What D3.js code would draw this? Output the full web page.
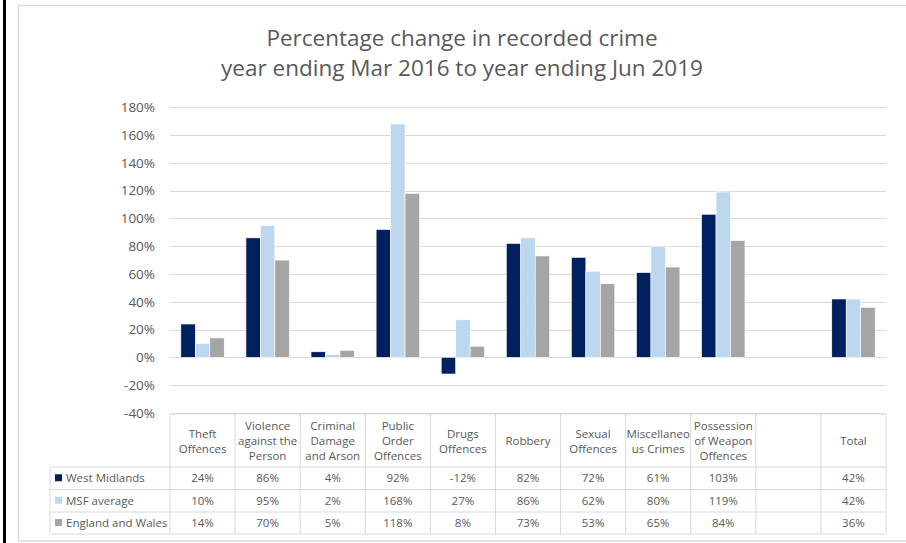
<!DOCTYPE html>
<html>
<head>
<meta charset="utf-8">
<script src="https://cdn.jsdelivr.net/npm/d3@7"></script>
<style>
  html, body { margin: 0; padding: 0; background: #fff; }
  svg { display: block; }
  text { font-family: "Open Sans", "Noto Sans", sans-serif; fill: #595959; }
</style>
</head>
<body>
<svg id="chart" width="906" height="543"></svg>
<script>
// Crime categories, with the wrapped header lines shown in the data table
const categories = [
  "Theft Offences", "Violence against the Person", "Criminal Damage and Arson",
  "Public Order Offences", "Drugs Offences", "Robbery", "Sexual Offences",
  "Miscellaneous Crimes", "Possession of Weapon Offences", "", "Total"
];
const categoryLines = [
  ["Theft", "Offences"],
  ["Violence", "against the", "Person"],
  ["Criminal", "Damage", "and Arson"],
  ["Public", "Order", "Offences"],
  ["Drugs", "Offences"],
  ["Robbery"],
  ["Sexual", "Offences"],
  ["Miscellaneo", "us Crimes"],
  ["Possession", "of Weapon", "Offences"],
  [],
  ["Total"]
];

// Series: percentage change, year ending Mar 2016 to year ending Jun 2019
const seriesNames = ["West Midlands", "MSF average", "England and Wales"];
const westMidlands    = [24, 86, 4, 92, -12, 82, 72, 61, 103, null, 42];
const msfAverage      = [10, 95, 2, 168, 27, 86, 62, 80, 119, null, 42];
const englandAndWales = [14, 70, 5, 118, 8, 73, 53, 65, 84, null, 36];
const seriesValues = [westMidlands, msfAverage, englandAndWales];
const seriesColors = ["#002060", "#BDD7EE", "#A5A5A5"];

const yTicks = [-40, -20, 0, 20, 40, 60, 80, 100, 120, 140, 160, 180];

const svg = d3.select("#chart");

// page edge bar and chart frame
svg.append("rect").attr("x", 3).attr("y", 0).attr("width", 3).attr("height", 543).attr("fill", "#000");
svg.append("rect").attr("x", 18.5).attr("y", 5.5).attr("width", 900).attr("height", 535.5)
  .attr("fill", "#fff").attr("stroke", "#d9d9d9").attr("stroke-width", 1.5);

// title
const title = svg.append("text").attr("text-anchor", "middle").attr("font-size", 22.5);
title.append("tspan").attr("x", 462).attr("y", 46).text("Percentage change in recorded crime");
title.append("tspan").attr("x", 462).attr("y", 76).text("year ending Mar 2016 to year ending Jun 2019");

const plotLeft = 170, plotRight = 886;
const x = d3.scaleBand().domain(d3.range(categories.length))
  .range([plotLeft, plotRight]).paddingInner(1 / 3).paddingOuter(1 / 6);
const x1 = d3.scaleBand().domain(d3.range(seriesNames.length)).range([0, x.bandwidth()]);
const y = d3.scaleLinear().domain([-40, 180]).range([412.9, 107.3]);

// gridlines
svg.append("g").selectAll("line").data(yTicks).join("line")
  .attr("x1", plotLeft).attr("x2", plotRight)
  .attr("y1", d => Math.round(y(d)) + 0.5).attr("y2", d => Math.round(y(d)) + 0.5)
  .attr("stroke", "#d9d9d9").attr("stroke-width", 1.2);

// value axis
const yAxis = svg.append("g").attr("transform", `translate(${plotLeft},0)`)
  .call(d3.axisLeft(y).tickValues(yTicks).tickSize(0).tickPadding(15).tickFormat(d => d + "%"));
yAxis.select(".domain").remove();
yAxis.selectAll("text").attr("font-size", 13.5).attr("fill", "#595959")
  .style("font-family", '"Open Sans", sans-serif');

// bars
const groups = svg.append("g").selectAll("g").data(categories).join("g")
  .attr("transform", (d, i) => `translate(${x(i)},0)`);
groups.selectAll("rect")
  .data((d, i) => seriesValues.map((vals, s) => ({ s, v: vals[i] })).filter(e => e.v !== null))
  .join("rect")
  .attr("x", e => x1(e.s))
  .attr("width", x1.bandwidth())
  .attr("y", e => y(Math.max(0, e.v)))
  .attr("height", e => Math.abs(y(e.v) - y(0)))
  .attr("fill", e => seriesColors[e.s])
  .attr("stroke", "#fff").attr("stroke-width", 0.6);

// data table
const tableTop = 414, headerBottom = 467;
const rowEdges = [467, 489.5, 512, 534];
const tableLeft = 50;
const lineColor = "#d9d9d9";
const tbl = svg.append("g");

// horizontal rules
tbl.append("line").attr("x1", plotLeft).attr("x2", plotRight).attr("y1", tableTop).attr("y2", tableTop)
  .attr("stroke", lineColor);
tbl.selectAll("line.row").data(rowEdges).join("line").attr("class", "row")
  .attr("x1", tableLeft).attr("x2", plotRight).attr("y1", d => d).attr("y2", d => d)
  .attr("stroke", lineColor);
// vertical rules
const colEdges = d3.range(categories.length + 1).map(i => plotLeft + i * x.step());
tbl.selectAll("line.col").data(colEdges).join("line").attr("class", "col")
  .attr("x1", d => d).attr("x2", d => d).attr("y1", tableTop).attr("y2", rowEdges[rowEdges.length - 1])
  .attr("stroke", lineColor);
tbl.append("line").attr("x1", tableLeft).attr("x2", tableLeft)
  .attr("y1", rowEdges[0]).attr("y2", rowEdges[rowEdges.length - 1]).attr("stroke", lineColor);

// header labels
const headerMid = (tableTop + headerBottom) / 2 + 0.5;
const lineH = 15;
categoryLines.forEach((lines, i) => {
  const cx = plotLeft + (i + 0.5) * x.step();
  lines.forEach((ln, k) => {
    tbl.append("text").attr("x", cx)
      .attr("y", headerMid + (k - (lines.length - 1) / 2) * lineH)
      .attr("dy", "0.35em").attr("text-anchor", "middle").attr("font-size", 11.5).text(ln);
  });
});

// series rows: legend key, name and values
seriesNames.forEach((name, s) => {
  const cy = (rowEdges[s] + rowEdges[s + 1]) / 2;
  tbl.append("rect").attr("x", 55).attr("y", cy - 4).attr("width", 7).attr("height", 7)
    .attr("fill", seriesColors[s]);
  tbl.append("text").attr("x", 66).attr("y", cy).attr("dy", "0.35em")
    .attr("font-size", 11.5).text(name);
  seriesValues[s].forEach((v, i) => {
    if (v === null) return;
    tbl.append("text").attr("x", plotLeft + (i + 0.5) * x.step()).attr("y", cy).attr("dy", "0.35em")
      .attr("text-anchor", "middle").attr("font-size", 11.5).text(v + "%");
  });
});
</script>
</body>
</html>
